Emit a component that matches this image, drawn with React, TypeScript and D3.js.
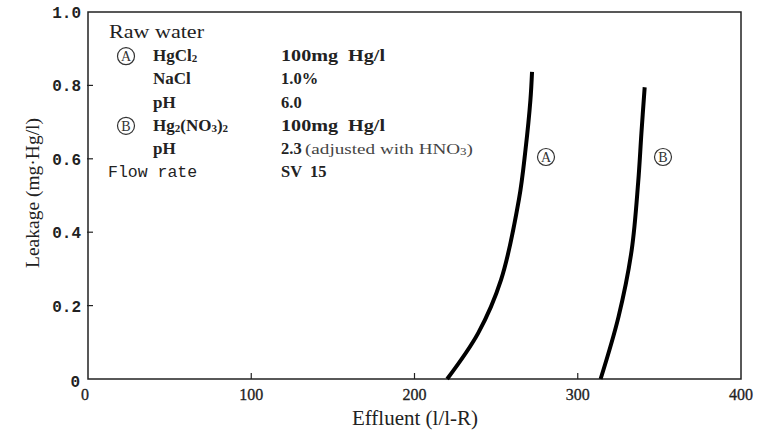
import React from 'react'
import * as d3 from 'd3'

// curve A (HgCl2) and curve B (Hg2(NO3)2)
const effluentA = [220, 239, 253, 264, 268, 271, 272]
const leakageA = [0, 0.125, 0.27, 0.49, 0.625, 0.76, 0.837]
const effluentB = [314, 325, 333, 337, 339, 341]
const leakageB = [0, 0.17, 0.35, 0.535, 0.67, 0.795]

const xTicks = [0, 100, 200, 300, 400]
const yTicks = [0, 0.2, 0.4, 0.6, 0.8, 1.0]

const rowNames = ['HgCl', 'NaCl', 'pH', 'Hg', 'pH']
const rowValues = ['100mg  Hg/l', '1.0%', '6.0', '100mg  Hg/l', '2.3']

const W = 764, H = 432
const margin = { top: 12, right: 23, bottom: 53, left: 88 }

export default function App() {
  const x = d3.scaleLinear().domain([0, 400]).range([margin.left, W - margin.right])
  const y = d3.scaleLinear().domain([0, 1]).range([H - margin.bottom, margin.top])

  const line = d3.line<[number, number]>()
    .x(d => x(d[0]))
    .y(d => y(d[1]))
    .curve(d3.curveCatmullRom.alpha(0.5))

  const ptsA = effluentA.map((e, i) => [e, leakageA[i]] as [number, number])
  const ptsB = effluentB.map((e, i) => [e, leakageB[i]] as [number, number])

  const serif = '"Liberation Serif", "DejaVu Serif", serif'
  const mono = '"Liberation Mono", "DejaVu Sans Mono", monospace'
  const ink = '#222'

  const rowY = (i: number) => 33 + i * 23.2

  const circled = (cx: number, cy: number, letter: string, key: string) => (
    <g key={key}>
      <circle cx={cx} cy={cy} r={8.5} fill="none" stroke="#333" strokeWidth={1.2} />
      <text x={cx} y={cy + 5} textAnchor="middle" fontFamily={serif} fontSize={14} fill="#333">{letter}</text>
    </g>
  )

  return (
    <svg width={W} height={H} style={{ position: 'absolute', left: 0, top: 0, background: '#fff' }}>
      {/* frame */}
      <rect x={x(0)} y={y(1)} width={x(400) - x(0)} height={y(0) - y(1)} fill="none" stroke={ink} strokeWidth={1.5} />

      {/* x ticks, pointing inside */}
      {xTicks.slice(1, -1).map(t => (
        <line key={'xt' + t} x1={x(t)} x2={x(t)} y1={y(0)} y2={y(0) - 6} stroke={ink} strokeWidth={1.2} />
      ))}
      {xTicks.map(t => (
        <text key={'xl' + t} x={t === 0 ? x(t) - 3 : x(t)} y={400} textAnchor="middle"
          fontFamily={serif} fontSize={16} fill="#222" stroke="#222" strokeWidth={0.3}>{t}</text>
      ))}

      {/* y ticks */}
      {yTicks.slice(1, -1).map(t => (
        <line key={'yt' + t} x1={x(0) - 1} x2={x(0) + 5} y1={y(t)} y2={y(t)} stroke={ink} strokeWidth={1.2} />
      ))}
      {yTicks.map(t => (
        <text key={'yl' + t} x={t === 0 ? 80 : 81} y={t === 0 ? 387 : y(t) + 6} textAnchor="end"
          fontFamily={mono} fontWeight="bold" fontSize={16} fill="#222">{t === 0 ? '0' : t.toFixed(1)}</text>
      ))}

      {/* axis titles */}
      <text x={415} y={425} textAnchor="middle" fontFamily={serif} fontSize={21} fill="#222">Effluent (l/l-R)</text>
      <text transform="translate(39,193) rotate(-90)" textAnchor="middle" fontFamily={serif} fontSize={19.5} fill="#222">Leakage (mg·Hg/l)</text>

      {/* curves */}
      <path d={line(ptsA) || ''} fill="none" stroke="#000" strokeWidth={4} />
      <path d={line(ptsB) || ''} fill="none" stroke="#000" strokeWidth={4} />
      {circled(546, 157, 'A', 'ca')}
      {circled(663, 157, 'B', 'cb')}

      {/* conditions block */}
      <text x={109} y={rowY(0) + 5} fontFamily={serif} fontSize={18.5} fill="#222" textLength={95} lengthAdjust="spacingAndGlyphs">Raw water</text>
      {circled(126, rowY(1), 'A', 'la')}
      {circled(126, rowY(4), 'B', 'lb')}
      {rowNames.map((n, i) => (
        <text key={'rn' + i} x={153} y={rowY(i + 1) + 5} fontFamily={serif} fontWeight="bold" fontSize={17} fill="#222">
          {i === 0 ? <>HgCl<tspan fontSize={11} dy={1}>2</tspan></> :
            i === 3 ? <>Hg<tspan fontSize={11} dy={1}>2</tspan><tspan dy={-1}>(NO</tspan><tspan fontSize={11} dy={1}>3</tspan><tspan dy={-1}>)</tspan><tspan fontSize={11} dy={1}>2</tspan></> : n}
        </text>
      ))}
      {rowValues.map((v, i) => (
        <text key={'rv' + i} x={281} y={rowY(i + 1) + 5} fontFamily={serif} fontWeight="bold" fontSize={16.5} fill="#222"
          xmlSpace="preserve" style={{ whiteSpace: 'pre' }}
          textLength={v.length > 6 ? 104 : undefined} lengthAdjust="spacingAndGlyphs">{v}</text>
      ))}
      <text x={305} y={rowY(5) + 5} fontFamily={serif} fontSize={14} fill="#444" textLength={168} lengthAdjust="spacingAndGlyphs">
        (adjusted with HNO<tspan fontSize={9.5} dy={1}>3</tspan><tspan dy={-1}>)</tspan>
      </text>
      <text x={108} y={rowY(6) + 5} fontFamily={mono} fontSize={16.5} fill="#222">Flow rate</text>
      <text x={281} y={rowY(6) + 5} fontFamily={serif} fontWeight="bold" fontSize={16.5} fill="#222" xmlSpace="preserve" style={{ whiteSpace: 'pre' }}>SV  15</text>
    </svg>
  )
}
